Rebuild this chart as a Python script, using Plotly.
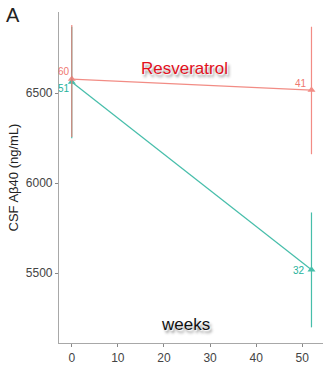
import plotly.graph_objects as go

weeks = [0, 52]
resv_mean = [6579, 6518]
resv_upper = [6879, 6870]
resv_lower = [6257, 6161]
resv_n = [60, 41]

plac_mean = [6563, 5518]
plac_upper = [6870, 5837]
plac_lower = [6250, 5198]
plac_n = [51, 32]

y_ticks = [5500, 6000, 6500]
x_ticks = [0, 10, 20, 30, 40, 50]

RED = "#f07970"
TEAL = "#26b39c"
FONT = "Arial, Liberation Sans, sans-serif"

fig = go.Figure()

def add_series(mean, upper, lower, color, opacity):
    fig.add_trace(go.Scatter(
        x=weeks, y=mean, mode="lines+markers",
        line=dict(color=color, width=1.2),
        marker=dict(symbol="triangle-up", size=7, color=color),
        error_y=dict(type="data", symmetric=False,
                     array=[u - m for u, m in zip(upper, mean)],
                     arrayminus=[m - l for m, l in zip(mean, lower)],
                     color=color, thickness=1.2, width=0),
        opacity=opacity, showlegend=False, hoverinfo="skip"))

add_series(plac_mean, plac_upper, plac_lower, TEAL, 0.85)
add_series(resv_mean, resv_upper, resv_lower, RED, 0.85)

shadow = "1px 1px 1px #fff, 2px 3px 3px #888"
anns = [
    dict(x=weeks[0], y=resv_mean[0], text=str(resv_n[0]), xanchor="right", yanchor="bottom",
         font=dict(color=RED, size=10, family=FONT), showarrow=False),
    dict(x=weeks[0], y=plac_mean[0], text=str(plac_n[0]), xanchor="right", yanchor="top", yshift=1,
         font=dict(color=TEAL, size=10, family=FONT), showarrow=False),
    dict(x=weeks[1], y=resv_mean[1], text=str(resv_n[1]), xanchor="right", yanchor="bottom",
         xshift=-2, yshift=-1, font=dict(color=RED, size=10, family=FONT), showarrow=False),
    dict(x=weeks[1], y=plac_mean[1], text=str(plac_n[1]), xanchor="right", yanchor="middle",
         xshift=-4, yshift=-1, font=dict(color=TEAL, size=10, family=FONT), showarrow=False),
    dict(x=24.4, y=6640, text="Resveratrol", showarrow=False, xanchor="center", yanchor="middle",
         font=dict(color="#e3101c", size=17, family=FONT, shadow=shadow)),
    dict(x=24.6, y=5213, text="weeks", showarrow=False, xanchor="center", yanchor="middle",
         font=dict(color="#111", size=17, family=FONT, shadow=shadow)),
    dict(x=0.0, y=1.0, xref="paper", yref="paper", text="A", showarrow=False,
         xanchor="center", yanchor="middle", xshift=-46, yshift=-3,
         font=dict(color="#222", size=20, family=FONT)),
]

fig.update_layout(
    width=335, height=378,
    margin=dict(l=59, r=12, t=12, b=35),
    paper_bgcolor="white", plot_bgcolor="white",
    font=dict(family=FONT, color="#4d4d4d"),
    annotations=anns,
    xaxis=dict(range=[-2.77, 54.5], tickvals=x_ticks, showgrid=False, zeroline=False,
               showline=True, linecolor="#a8a8a8", linewidth=1.2,
               ticks="outside", ticklen=3, tickcolor="#888", tickwidth=1,
               tickfont=dict(size=12, color="#444")),
    yaxis=dict(range=[5111, 6952], tickvals=y_ticks, showgrid=False, zeroline=False,
               showline=True, linecolor="#a8a8a8", linewidth=1.2,
               ticks="outside", ticklen=3, tickcolor="#888", tickwidth=1,
               tickfont=dict(size=12, color="#444"),
               title=dict(text="CSF Aβ40 (ng/mL)", font=dict(size=13, color="#222"), standoff=4)),
)

fig.write_html("out.html")
